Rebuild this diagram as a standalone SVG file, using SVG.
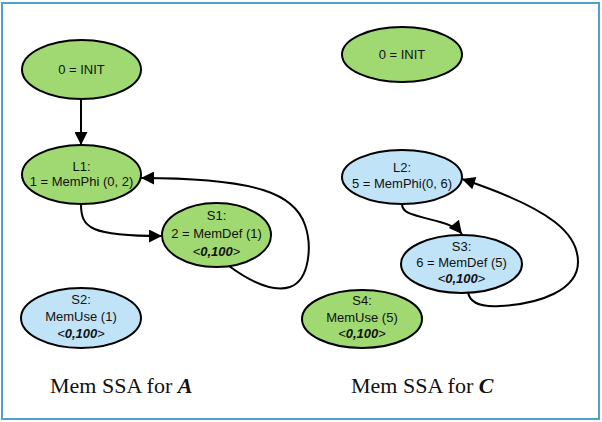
<svg xmlns="http://www.w3.org/2000/svg" width="602" height="422" viewBox="0 0 602 422">
<defs>
<marker id="ah" viewBox="0 0 10 10" refX="10" refY="5" markerWidth="19" markerHeight="13" markerUnits="userSpaceOnUse" orient="auto">
<path d="M0,0 L10,5 L0,10 z" fill="#000"/>
</marker>
</defs>
<style>
.g{fill:#a0d872;stroke:#000;stroke-width:2}
.b{fill:#c0e3f7;stroke:#000;stroke-width:2}
.t{font-family:"Liberation Sans",Arial,sans-serif;font-size:13px;fill:#111;text-anchor:middle}
.e{fill:none;stroke:#000;stroke-width:2;marker-end:url(#ah)}
.cap{font-family:"Liberation Serif","Times New Roman",serif;font-size:22px;fill:#111}
</style>
<rect x="2" y="3" width="597" height="416" fill="#fff" stroke="#4ba3cc" stroke-width="2"/>
<g id="n-init-a"><ellipse class="g" cx="81.5" cy="69.5" rx="59.5" ry="29.5"/><text class="t" x="81.5" y="74">0 = INIT</text></g>
<g id="n-l1"><ellipse class="g" cx="81.5" cy="174.5" rx="59.5" ry="29.5"/><text class="t" x="81.5" y="171">L1:</text><text class="t" x="81.5" y="186">1 = MemPhi (0, 2)</text></g>
<g id="n-s1"><ellipse class="g" cx="216.5" cy="235" rx="54.5" ry="32"/><text class="t" x="216.5" y="220">S1:</text><text class="t" x="216.5" y="238">2 = MemDef (1)</text><text class="t" x="216.5" y="256"><tspan font-style="italic">&lt;</tspan><tspan font-style="italic" font-weight="bold">0,100</tspan><tspan>&gt;</tspan></text></g>
<g id="n-s2"><ellipse class="b" cx="81" cy="318" rx="60" ry="30"/><text class="t" x="81" y="304">S2:</text><text class="t" x="81" y="321">MemUse (1)</text><text class="t" x="81" y="338"><tspan font-style="italic">&lt;</tspan><tspan font-style="italic" font-weight="bold">0,100</tspan><tspan>&gt;</tspan></text></g>
<g id="n-init-c"><ellipse class="g" cx="402" cy="54.5" rx="60" ry="27.5"/><text class="t" x="402" y="59">0 = INIT</text></g>
<g id="n-l2"><ellipse class="b" cx="402" cy="177" rx="60" ry="27"/><text class="t" x="402" y="172">L2:</text><text class="t" x="402" y="188">5 = MemPhi(0, 6)</text></g>
<g id="n-s3"><ellipse class="b" cx="461.5" cy="264" rx="60.5" ry="29"/><text class="t" x="461.5" y="251">S3:</text><text class="t" x="461.5" y="267">6 = MemDef (5)</text><text class="t" x="461.5" y="283"><tspan font-style="italic">&lt;</tspan><tspan font-style="italic" font-weight="bold">0,100</tspan><tspan>&gt;</tspan></text></g>
<g id="n-s4"><ellipse class="g" cx="362" cy="319" rx="60" ry="29"/><text class="t" x="362" y="305">S4:</text><text class="t" x="362" y="322">MemUse (5)</text><text class="t" x="362" y="338"><tspan font-style="italic">&lt;</tspan><tspan font-style="italic" font-weight="bold">0,100</tspan><tspan>&gt;</tspan></text></g>
<g id="edges">
<path class="e" d="M81,99 L81,145"/>
<path class="e" d="M81,204 C81,228 90,236 162,236"/>
<path class="e" d="M229,266 C255,285 275,292 290,287 C310,280 312,245 305,225 C295,195 260,178 141,178"/>
<path class="e" d="M402,204 C402,213 410,214 440,222 C452,225 458,229 462,234"/>
<path class="e" d="M468,292 C470,305 485,307 500,306 C540,304 578,290 578,262 C578,235 555,210 462,179"/>
</g>
<text class="cap" x="50" y="393">Mem SSA for <tspan font-weight="bold" font-style="italic">A</tspan></text>
<text class="cap" x="351" y="393">Mem SSA for <tspan font-weight="bold" font-style="italic">C</tspan></text>
</svg>
